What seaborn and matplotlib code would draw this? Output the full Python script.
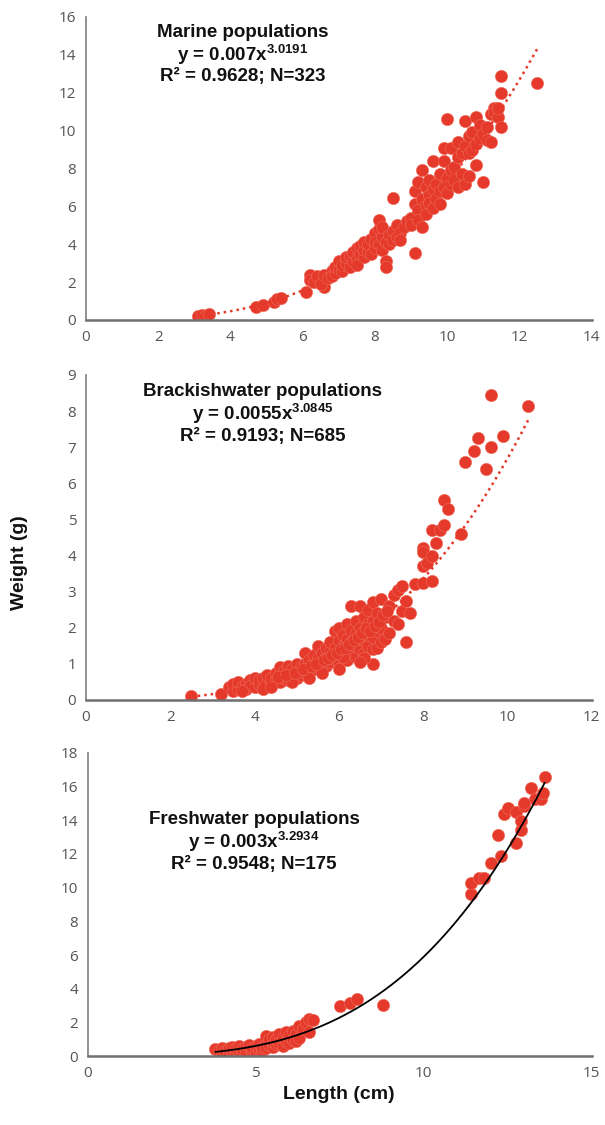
import numpy as np
import pandas as pd
import matplotlib
matplotlib.use("Agg")
import matplotlib.pyplot as plt
import seaborn as sns

# length-weight data (length cm, weight g)
marine_len = [3.1, 3.2, 3.3, 3.4, 4.7, 4.9, 5.2, 5.3, 5.4, 6.1, 6.2, 6.6, 8.5, 9.1,
              6.2, 6.3, 6.4, 6.5, 6.6, 6.7, 6.8, 6.8, 6.9, 6.9, 7.0, 7.0, 7.1, 7.1, 7.2, 7.2,
              7.3, 7.3, 7.4, 7.4, 7.5, 7.5, 7.5, 7.6, 7.6, 7.7, 7.7, 7.7, 7.8, 7.8, 7.9, 7.9,
              8.0, 8.0, 8.0, 8.1, 8.1, 8.1, 8.2, 8.2, 8.2, 8.3, 8.3, 8.3, 8.4, 8.4, 8.5, 8.5,
              8.6, 8.6, 8.7, 8.7, 8.8, 8.9, 9.0, 9.0,
              9.1, 9.1, 9.2, 9.2, 9.2, 9.3, 9.3, 9.3, 9.4, 9.4, 9.4, 9.5, 9.5, 9.5, 9.6, 9.6,
              9.6, 9.7, 9.7, 9.8, 9.8, 9.8, 9.9, 9.9, 9.9, 10.0, 10.0, 10.0, 10.1, 10.1, 10.1,
              10.2, 10.2, 10.3, 10.3, 10.3, 10.4, 10.4, 10.5, 10.5, 10.5, 10.6, 10.6, 10.6,
              10.7, 10.7, 10.8, 10.8, 10.8, 10.9, 10.9, 11.0, 11.0, 11.1, 11.1, 11.2, 11.2,
              11.3, 11.3, 11.4, 11.4, 11.5, 11.5, 11.5, 12.5]
marine_wt = [0.2, 0.25, 0.2, 0.3, 0.7, 0.8, 0.95, 1.1, 1.15, 1.45, 2.35, 1.75, 6.45, 3.55,
             2.1, 2.0, 2.3, 1.9, 2.4, 2.2, 2.6, 2.3, 2.5, 2.8, 2.7, 3.1, 2.6, 2.9, 3.0, 3.3,
             2.8, 3.4, 3.1, 3.6, 3.2, 3.8, 2.9, 3.5, 3.9, 3.3, 3.7, 4.1, 3.6, 4.0, 3.5, 4.3,
             3.8, 4.6, 4.1, 4.0, 4.8, 5.3, 3.7, 4.4, 4.9, 4.1, 3.1, 2.8, 4.5, 4.0, 4.7, 4.2,
             4.4, 5.0, 4.6, 4.2, 4.9, 5.2, 5.4, 5.0,
             6.1, 6.8, 7.3, 5.8, 5.3, 6.4, 7.9, 4.9, 6.0, 7.0, 5.6, 6.6, 7.4, 6.2, 6.9, 5.9,
             8.4, 7.2, 6.4, 6.8, 7.7, 6.1, 7.0, 9.1, 8.4, 7.5, 6.7, 10.6, 7.9, 7.2, 9.1,
             7.4, 8.1, 7.0, 8.6, 9.4, 8.8, 7.7, 9.2, 7.2, 10.5, 8.8, 9.7, 7.6,
             9.0, 9.9, 10.7, 9.3, 8.2, 9.6, 10.3, 7.3, 9.8, 10.2, 9.5, 10.9, 9.4,
             11.2, 11.0, 10.7, 11.2, 12.9, 12.0, 10.2, 12.5]

brack_len = [2.5, 3.2,
             3.4, 3.5, 3.5, 3.6, 3.6, 3.7, 3.8, 3.8, 3.9, 3.9, 4.0, 4.0, 4.1, 4.1, 4.2, 4.2,
             4.3, 4.3, 4.4, 4.4, 4.5, 4.5, 4.6, 4.6, 4.6, 4.7, 4.7, 4.8, 4.8, 4.8, 4.9, 4.9,
             5.0, 5.0, 5.0, 5.1, 5.1, 5.2, 5.2, 5.2, 5.3, 5.3, 5.4, 5.4, 5.4, 5.5, 5.5, 5.5,
             5.6, 5.6, 5.7, 5.7, 5.7, 5.8, 5.8, 5.8, 5.9, 5.9, 5.9, 6.0, 6.0, 6.0, 6.0,
             6.1, 6.1, 6.1, 6.2, 6.2, 6.2, 6.2, 6.3, 6.3, 6.3, 6.3, 6.4, 6.4, 6.4, 6.4,
             6.5, 6.5, 6.5, 6.5, 6.6, 6.6, 6.6, 6.6, 6.7, 6.7, 6.7, 6.7, 6.8, 6.8, 6.8, 6.8,
             6.8, 6.9, 6.9, 6.9, 7.0, 7.0, 7.0, 7.1, 7.1, 7.2, 7.2, 7.3, 7.3, 7.4, 7.4,
             7.5, 7.5, 7.6, 7.6, 7.7, 7.8, 8.0, 8.0, 8.0, 8.0, 8.1, 8.2, 8.2, 8.2, 8.3,
             8.4, 8.5, 8.5, 8.6, 8.9, 9.0, 9.2, 9.3, 9.5, 9.6, 9.6, 9.9, 10.5,
             3.7, 4.2, 4.4, 4.9, 5.3, 5.6, 6.0, 6.6, 6.5, 6.1,
             4.55, 4.75, 4.95, 5.15, 5.35, 5.45, 5.65, 5.75, 5.85, 5.95, 6.05, 6.15,
             6.25, 6.35, 6.45, 6.55, 6.65, 6.75, 6.85, 6.95, 7.05, 7.15]
brack_wt = [0.1, 0.17,
            0.35, 0.25, 0.45, 0.3, 0.5, 0.35, 0.45, 0.3, 0.55, 0.4, 0.35, 0.6, 0.45, 0.55, 0.4, 0.6,
            0.5, 0.7, 0.45, 0.6, 0.55, 0.75, 0.5, 0.65, 0.9, 0.6, 0.8, 0.55, 0.7, 0.95, 0.65, 0.85,
            0.6, 0.8, 1.0, 0.7, 0.9, 0.75, 1.0, 1.3, 0.8, 1.1, 0.85, 1.05, 1.25, 0.9, 1.15, 1.5,
            1.0, 1.3, 0.95, 1.2, 1.45, 1.05, 1.35, 1.6, 1.1, 1.45, 1.9, 1.0, 1.3, 1.65, 2.0,
            1.2, 1.5, 1.8, 1.1, 1.4, 1.7, 2.1, 1.3, 1.6, 1.95, 2.6, 1.2, 1.5, 1.85, 2.2,
            1.4, 1.7, 2.0, 2.6, 1.3, 1.65, 1.9, 2.3, 1.5, 1.8, 2.1, 2.5, 1.0, 1.4, 1.75, 2.2,
            2.7, 1.45, 1.9, 2.4, 1.6, 2.0, 2.8, 1.7, 2.3, 1.85, 2.6, 2.2, 2.9, 2.1, 3.05,
            3.15, 2.45, 1.6, 2.75, 2.4, 3.2, 3.25, 3.7, 4.2, 4.1, 3.8, 3.3, 4.0, 4.7, 4.35,
            4.7, 4.85, 5.55, 5.3, 4.6, 6.6, 6.9, 7.25, 6.4, 7.0, 8.45, 7.3, 8.15,
            0.25, 0.3, 0.35, 0.5, 0.6, 0.75, 0.85, 1.15, 1.05, 1.2,
            0.65, 0.7, 0.75, 0.85, 0.95, 1.0, 1.1, 1.15, 1.25, 1.3, 1.4, 1.45,
            1.55, 1.65, 1.75, 1.85, 2.0, 1.9, 2.05, 2.15, 2.35, 2.45]

fresh_len = [3.8, 3.9, 4.0, 4.0, 4.1, 4.2, 4.2, 4.3, 4.3, 4.4, 4.4, 4.5, 4.5, 4.6, 4.6,
             4.7, 4.7, 4.8, 4.8, 4.9, 4.9, 5.0, 5.0, 5.1, 5.1, 5.2, 5.2, 5.3, 5.3, 5.3,
             5.4, 5.4, 5.5, 5.5, 5.5, 5.6, 5.6, 5.7, 5.7, 5.8, 5.8, 5.9, 5.9, 6.0, 6.0,
             6.1, 6.1, 6.2, 6.2, 6.3, 6.3, 6.4, 6.5, 6.6, 6.6, 6.7, 7.5, 7.8, 8.0, 8.8,
             11.4, 11.4, 11.65, 11.8, 12.0, 12.2, 12.3, 12.4, 12.5, 12.75, 12.75, 12.9,
             12.9, 13.0, 13.0, 13.2, 13.3, 13.5, 13.55, 13.6]
fresh_wt = [0.4, 0.3, 0.2, 0.45, 0.3, 0.15, 0.5, 0.35, 0.55, 0.2, 0.45, 0.3, 0.6, 0.15, 0.4,
            0.55, 0.25, 0.45, 0.65, 0.3, 0.5, 0.2, 0.6, 0.4, 0.7, 0.3, 0.55, 0.8, 1.2, 0.45,
            0.65, 1.0, 0.55, 0.85, 1.15, 0.7, 1.0, 1.3, 0.8, 0.6, 1.1, 0.9, 1.4, 0.75, 1.2,
            1.5, 0.95, 1.3, 0.9, 1.8, 1.1, 1.6, 2.0, 2.2, 1.4, 2.15, 3.0, 3.15, 3.4, 3.05,
            9.65, 10.3, 10.55, 10.6, 11.45, 13.15, 11.9, 14.35, 14.75, 12.65, 14.5, 13.45,
            13.95, 14.85, 15.0, 15.9, 15.25, 15.25, 15.65, 16.55]

# power trendlines as printed on the chart: W = a * L^b
fits = {
    "marine": (0.007, 3.0191, 3.1, 12.5),
    "brack": (0.0055, 3.0845, 2.5, 10.5),
    "fresh": (0.003, 3.2934, 3.8, 13.6),
}

sns.set_style("white")
plt.rcParams["font.family"] = ["Liberation Sans", "DejaVu Sans"]
plt.rcParams["mathtext.default"] = "regular"

red = "#e53a2b"
tick_col = "#555555"

fig = plt.figure(figsize=(6.05, 11.25), dpi=100)
ax1 = fig.add_axes([0.142, 0.7156, 0.836, 0.2693])
ax2 = fig.add_axes([0.142, 0.3778, 0.836, 0.2889])
ax3 = fig.add_axes([0.145, 0.0613, 0.833, 0.2694])

panels = [
    (ax1, marine_len, marine_wt, "marine", (0, 14), range(0, 15, 2), (0, 16), range(0, 17, 2),
     ["Marine populations", "y = 0.007x$^{3.0191}$", "R² = 0.9628; N=323"], (0.31, 0.95), red, ":"),
    (ax2, brack_len, brack_wt, "brack", (0, 12), range(0, 13, 2), (0, 9), range(0, 10),
     ["Brackishwater populations", "y = 0.0055x$^{3.0845}$", "R² = 0.9193; N=685"], (0.35, 0.95), red, ":"),
    (ax3, fresh_len, fresh_wt, "fresh", (0, 15), range(0, 16, 5), (0, 18), range(0, 19, 2),
     ["Freshwater populations", "y = 0.003x$^{3.2934}$", "R² = 0.9548; N=175"], (0.33, 0.78), "black", "-"),
]

for ax, xs, ys, key, xl, xt, yl, yt, label, pos, lcol, ls in panels:
    df = pd.DataFrame({"length": xs, "weight": ys})
    sns.scatterplot(data=df, x="length", y="weight", ax=ax, color=red, s=78,
                    edgecolor="#ee6a5a", linewidth=0.4, zorder=2)
    a, b, x0, x1 = fits[key]
    lx = np.linspace(x0, x1, 200)
    if ls == ":":
        ax.plot(lx, a * lx ** b, color=lcol, lw=1.8, linestyle=(0, (1, 1.6)), zorder=3)
    else:
        ax.plot(lx, a * lx ** b, color=lcol, lw=1.3, zorder=3)
    ax.set_xlim(*xl)
    ax.set_ylim(*yl)
    ax.set_xticks(list(xt))
    ax.set_yticks(list(yt))
    ax.set_xlabel("")
    ax.set_ylabel("")
    ax.tick_params(length=0, labelsize=11, labelcolor=tick_col, pad=7)
    for lab in ax.get_xticklabels() + ax.get_yticklabels():
        lab.set_fontfamily(["Open Sans", "DejaVu Sans"])
    for s in ["top", "right"]:
        ax.spines[s].set_visible(False)
    ax.spines["left"].set_color("#7f7f7f")
    ax.spines["bottom"].set_color("#6f6f6f")
    ax.spines["left"].set_linewidth(1.2)
    ax.spines["bottom"].set_linewidth(1.8)
    for i, line in enumerate(label):
        ax.text(pos[0], pos[1] - i * 0.074 * (0.2693 / ax.get_position().height), line,
                transform=ax.transAxes, ha="center", va="center",
                fontsize=13.5, fontweight="bold", color="#111111")

fig.text(0.033, 0.50, "Weight (g)", rotation=90, ha="center", va="center",
         fontsize=14, fontweight="bold", color="#111111")
fig.text(0.56, 0.027, "Length (cm)", ha="center", va="center",
         fontsize=14, fontweight="bold", color="#111111")

fig.savefig("out.png", dpi=100)
